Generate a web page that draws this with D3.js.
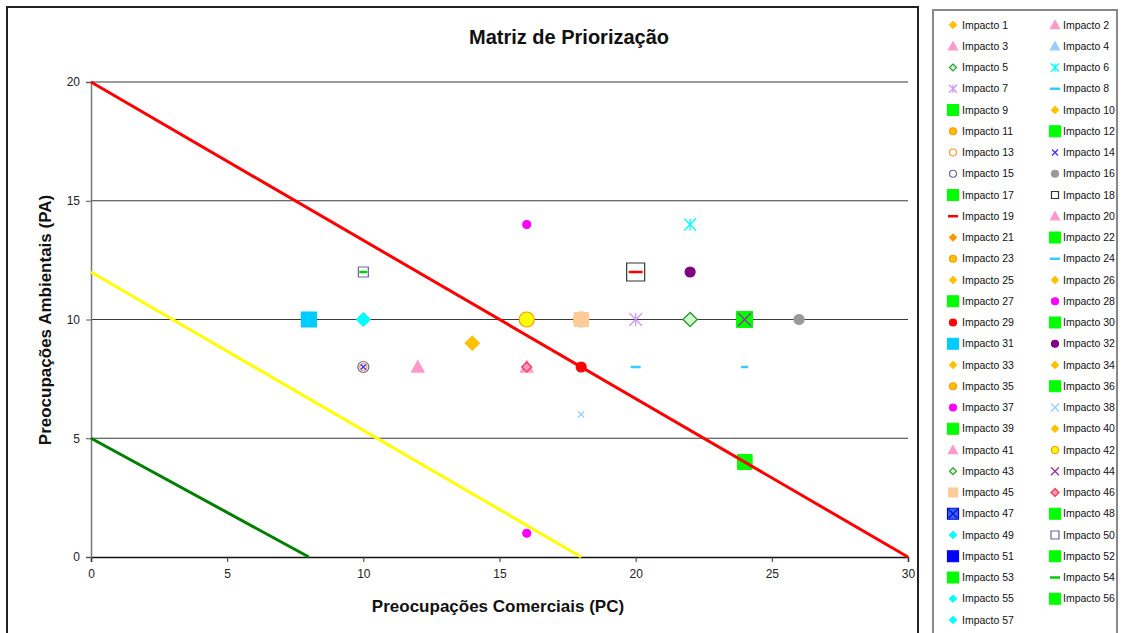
<!DOCTYPE html>
<html>
<head>
<meta charset="utf-8">
<script src="https://cdn.jsdelivr.net/npm/d3@7"></script>
<style>
  body { margin: 0; background: #fff; }
  text { font-family: "Liberation Sans", Arial, sans-serif; }
</style>
</head>
<body>
<div id="chart"></div>
<script>
// data
var impactos = d3.range(1, 58).map(function(i){ return "Impacto " + i; });

// PC (x) and PA (y) per impact, in order 1..57
var pcValues = [14,12,12,16,22, 22,20,20,24,14, 16,24,10,10,10, 26,24,20,20,16,
                14,24,16,24,14, 14,24,16,18,24, 8,22,14,14,18, 24,16,18,24,14,
                16,16,22,24,18, 16,24,24,10,10, 24,24,24,10,10, 24,10];
var paValues = [9,8,8,8,10, 14,10,8,10,9, 10,10,8,8,8, 10,10,12,12,8,
                9,10,10,8,9, 9,10,14,8,10, 10,12,9,9,10, 10,1,6,4,9,
                8,10,10,10,10, 8,4,4,10,12, 4,4,4,12,10, 4,10];

var xTicks = [0,5,10,15,20,25,30];
var yTicks = [0,5,10,15,20];

var redLine = [[0,20],[30,0]];
var yellowLine = [[0,12],[18,0]];
var greenLine = [[0,5],[8,0]];

// marker style per impact: [shape, fill, stroke, plot size, legend size]
var G = "#00FF00", GOLD = "#FFC000", PINK = "#FF99CC", CYAN = "#00FFFF";
var markerStyles = [
  ["diamond", GOLD, GOLD, 12, 7],        // 1
  ["triangle", PINK, PINK, 12, 9],       // 2
  ["triangle", PINK, PINK, 12, 9],       // 3
  ["triangle", "#99CCFF", "#99CCFF", 10, 9], // 4
  ["diamond", "#CCFFCC", "#339933", 14, 7],  // 5
  ["asterisk", "none", "#00FFFF", 12, 8],    // 6
  ["asterisk", "none", "#CC99FF", 13, 8],    // 7
  ["dash", "none", "#33CCFF", 10, 10],       // 8
  ["square", G, G, 15, 11],              // 9
  ["diamond", GOLD, GOLD, 12, 7],        // 10
  ["circle", GOLD, "#FF9900", 8, 7],     // 11
  ["square", G, G, 15, 11],              // 12
  ["circle", "none", "#FF9933", 7, 7],   // 13
  ["x", "none", "#3333FF", 5, 6],        // 14
  ["circle", "none", "#666699", 11, 7],  // 15
  ["circle", "#999999", "#999999", 10, 7], // 16
  ["square", G, G, 15, 11],              // 17
  ["square", "none", "#333333", 18, 7],  // 18
  ["dash", "none", "#FF0000", 14, 10],   // 19
  ["triangle", PINK, PINK, 12, 9],       // 20
  ["diamond", "#FF9900", "#FF9900", 12, 7], // 21
  ["square", G, G, 15, 11],              // 22
  ["circle", GOLD, "#FF9900", 8, 7],     // 23
  ["dash", "none", "#33CCFF", 7, 10],    // 24
  ["diamond", GOLD, GOLD, 12, 7],        // 25
  ["diamond", GOLD, GOLD, 12, 7],        // 26
  ["square", G, G, 15, 11],              // 27
  ["circle", "#FF00FF", "#FF00FF", 8, 7],  // 28
  ["circle", "#FF0000", "#FF0000", 10, 7], // 29
  ["square", G, G, 15, 11],              // 30
  ["square", "#00CCFF", "#00CCFF", 15, 11], // 31
  ["circle", "#800080", "#800080", 10, 7],  // 32
  ["diamond", GOLD, GOLD, 12, 7],        // 33
  ["diamond", GOLD, GOLD, 12, 7],        // 34
  ["circle", GOLD, "#FF9900", 15, 7],    // 35
  ["square", G, G, 15, 11],              // 36
  ["circle", "#FF00FF", "#FF00FF", 8, 7],  // 37
  ["x", "none", "#99CCFF", 6, 8],        // 38
  ["square", G, G, 14, 11],              // 39
  ["diamond", GOLD, GOLD, 14, 7],        // 40
  ["triangle", PINK, PINK, 12, 9],       // 41
  ["circle", "#FFFF00", "#FF9900", 15, 7], // 42
  ["diamond", "#CCFFCC", "#339933", 14, 7],  // 43
  ["x", "none", "#993399", 13, 8],       // 44
  ["square", "#FFCC99", "#FFCC99", 14, 9], // 45
  ["diamond", "#FF99CC", "#FF3333", 10, 8], // 46
  ["squarex", "#3366FF", "#0000CC", 12, 11], // 47
  ["square", G, G, 14, 11],              // 48
  ["diamond", CYAN, CYAN, 13, 7],        // 49
  ["square", "none", "#666699", 10, 8],  // 50
  ["square", "#0000FF", "#0000FF", 12, 11], // 51
  ["square", G, G, 14, 11],              // 52
  ["square", G, G, 14, 11],              // 53
  ["dash", "none", "#00CC00", 8, 10],    // 54
  ["diamond", CYAN, CYAN, 13, 7],        // 55
  ["square", G, G, 14, 11],              // 56
  ["diamond", CYAN, CYAN, 13, 7]         // 57
];

var W = 1127, H = 633;

var svg = d3.select("#chart").append("svg")
    .attr("width", W)
    .attr("height", H);

// chart area frame
svg.append("rect")
    .attr("x", 7).attr("y", 7)
    .attr("width", 911).attr("height", 640)
    .attr("fill", "#fff")
    .attr("stroke", "#222").attr("stroke-width", 2);

var x = d3.scaleLinear().domain([0, 30]).range([91, 908]);
var y = d3.scaleLinear().domain([0, 20]).range([557, 82]);

// horizontal gridlines
svg.selectAll(".grid").data(yTicks.filter(function(d){ return d > 0; }))
  .enter().append("line")
    .attr("x1", x(0)).attr("x2", x(30))
    .attr("y1", function(d){ return y(d); })
    .attr("y2", function(d){ return y(d); })
    .attr("stroke", "#3a3a3a").attr("stroke-width", 1.2);

// axes
var xAxis = svg.append("g")
    .attr("transform", "translate(0," + y(0) + ")")
    .call(d3.axisBottom(x).tickValues(xTicks).tickSize(5).tickPadding(7).tickFormat(d3.format("d")));
xAxis.select(".domain").attr("stroke", "#111").attr("stroke-width", 1.5);
xAxis.selectAll(".tick line").attr("stroke", "#333");

var yAxis = svg.append("g")
    .attr("transform", "translate(" + x(0) + ",0)")
    .call(d3.axisLeft(y).tickValues(yTicks).tickSize(5).tickPadding(6).tickFormat(d3.format("d")));
yAxis.select(".domain").attr("stroke", "#777").attr("stroke-width", 1.5);
yAxis.selectAll(".tick line").attr("stroke", "#555");

svg.selectAll(".tick text")
    .attr("font-family", "Liberation Sans, Arial, sans-serif")
    .attr("font-size", 12)
    .attr("fill", "#222");

// marker paths, centered on 0,0
function markerPath(shape, s) {
  var h = s / 2;
  switch (shape) {
    case "square":
    case "squarex":
      return "M" + (-h) + "," + (-h) + "h" + s + "v" + s + "h" + (-s) + "Z";
    case "diamond":
      return "M0," + (-h) + "L" + h + ",0L0," + h + "L" + (-h) + ",0Z";
    case "triangle":
      return "M0," + (-h) + "L" + h + "," + (h * 0.8) + "L" + (-h) + "," + (h * 0.8) + "Z";
    case "circle":
      return "M" + (-h) + ",0A" + h + "," + h + " 0 1,0 " + h + ",0A" + h + "," + h + " 0 1,0 " + (-h) + ",0Z";
    case "x":
      return "M" + (-h) + "," + (-h) + "L" + h + "," + h + "M" + h + "," + (-h) + "L" + (-h) + "," + h;
    case "asterisk":
      return "M" + (-h) + "," + (-h) + "L" + h + "," + h + "M" + h + "," + (-h) + "L" + (-h) + "," + h +
             "M0," + (-h) + "L0," + h;
    case "dash":
      return "M" + (-h) + ",0L" + h + ",0";
  }
}

function drawMarker(sel, st, size) {
  var shape = st[0];
  sel.append("path")
      .attr("d", markerPath(shape, size))
      .attr("fill", st[1])
      .attr("stroke", st[2])
      .attr("stroke-width", (shape == "dash") ? 2.5 : (shape == "x" || shape == "asterisk") ? 1.3 : 1.2);
  if (shape == "squarex") {
    sel.append("path")
        .attr("d", markerPath("x", size * 0.8))
        .attr("fill", "none").attr("stroke", st[2]).attr("stroke-width", 1.2);
  }
}

var points = impactos.map(function(name, i) {
  return { name: name, pc: pcValues[i], pa: paValues[i], style: markerStyles[i] };
});

// draw in series order, later series on top
svg.append("g").selectAll("g").data(points)
  .enter().append("g")
    .attr("transform", function(d){ return "translate(" + x(d.pc) + "," + y(d.pa) + ")"; })
    .each(function(d){ drawMarker(d3.select(this), d.style, d.style[3]); });

// limit lines
var line = d3.line()
    .x(function(d){ return x(d[0]); })
    .y(function(d){ return y(d[1]); });

[[greenLine, "#008000"], [yellowLine, "#FFFF00"], [redLine, "#FF0000"]].forEach(function(l) {
  svg.append("path")
      .attr("d", line(l[0]))
      .attr("fill", "none")
      .attr("stroke", l[1])
      .attr("stroke-width", 3);
});

// titles
svg.append("text")
    .attr("x", 569).attr("y", 44)
    .attr("text-anchor", "middle")
    .attr("font-size", 20).attr("font-weight", "bold")
    .attr("fill", "#111")
    .text("Matriz de Priorização");

svg.append("text")
    .attr("x", 498).attr("y", 612)
    .attr("text-anchor", "middle")
    .attr("font-size", 17).attr("font-weight", "bold")
    .attr("fill", "#111")
    .text("Preocupações Comerciais (PC)");

svg.append("text")
    .attr("transform", "translate(51,320) rotate(-90)")
    .attr("text-anchor", "middle")
    .attr("font-size", 17).attr("font-weight", "bold")
    .attr("fill", "#111")
    .text("Preocupações Ambientais (PA)");

// legend
var legend = svg.append("g");
legend.append("rect")
    .attr("x", 933).attr("y", 10)
    .attr("width", 184).attr("height", 640)
    .attr("fill", "#fff")
    .attr("stroke", "#888").attr("stroke-width", 2);

var ROW_H = 21.25;
var items = legend.selectAll(".item").data(points)
  .enter().append("g")
    .attr("transform", function(d, i) {
      var col = i % 2, row = Math.floor(i / 2);
      return "translate(" + (col ? 1055 : 953) + "," + (25 + row * ROW_H) + ")";
    });
items.each(function(d){ drawMarker(d3.select(this), d.style, d.style[4]); });
items.append("text")
    .attr("x", function(d, i){ return (i % 2) ? 8 : 9; })
    .attr("y", 3.6)
    .attr("font-size", 10.5)
    .attr("fill", "#111")
    .text(function(d){ return d.name; });
</script>
</body>
</html>
